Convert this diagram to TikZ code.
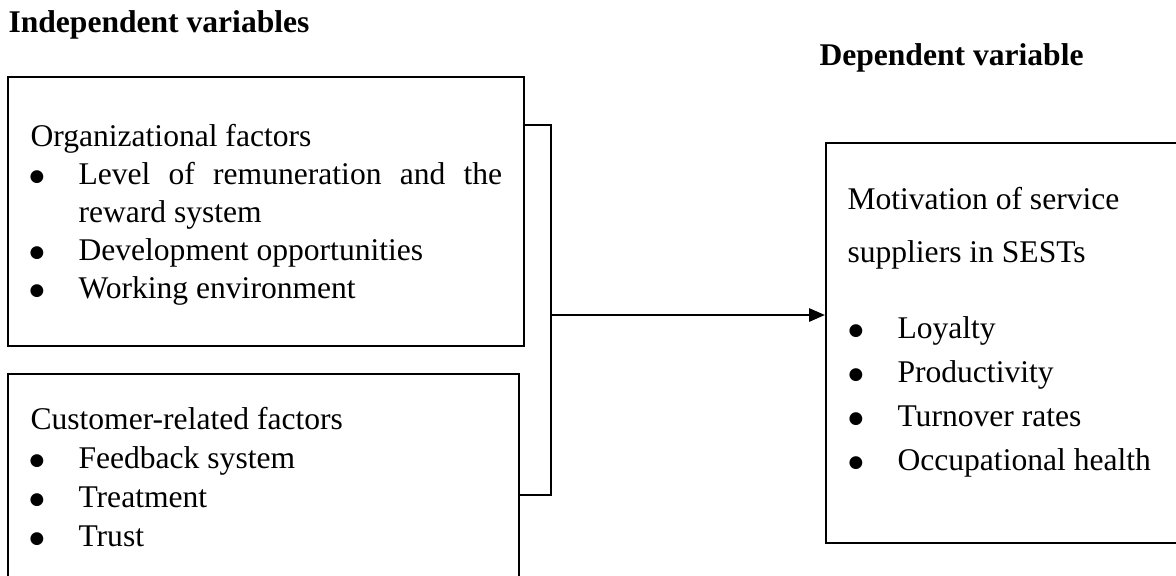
\documentclass[tikz,border=0pt]{standalone}
\usepackage{fontspec}
\setmainfont{Liberation Serif}
\newfontfamily\dotfont{DejaVu Sans}
\usetikzlibrary{arrows.meta,fit}
\tikzset{
  box/.style={draw, line width=0.8pt, inner sep=0pt},
  txt/.style={anchor=base west, inner sep=0pt, font=\fontsize{12}{14}\selectfont},
  head/.style={txt, font=\fontsize{12}{14}\selectfont\bfseries},
  link/.style={line width=0.8pt},
}
\newcommand{\bul}{\llap{\raisebox{1.1pt}{\dotfont\fontsize{6.4}{7}\selectfont ●}\hspace{13pt}}}

\begin{document}
\begin{tikzpicture}[x=0.38pt, y=-0.38pt]
            \useasboundingbox (0,0) rectangle (1176,575);
            \clip (0,0) rectangle (1176,575);

            % headings
            \node[head] (indep) at (8,32) {Independent variables};
            \node[head] (dep) at (819,65) {Dependent variable};

            % boxes
            \node[box, fit={(8,77) (524,346)}] (org) {};
            \node[box, fit={(8,374) (519,600)}] (cust) {};
            \node[box, fit={(826,143) (1200,543)}] (motiv) {};

            % organizational factors
            \node[txt] (o0) at (30,146) {Organizational factors};
            \node[txt] (o1) at (78,184) {\bul\makebox[161pt][s]{Level of remuneration and the}};
            \node[txt] (o2) at (78,222) {reward system};
            \node[txt] (o3) at (78,260) {\bul Development opportunities};
            \node[txt] (o4) at (78,298) {\bul Working environment};

            % customer-related factors
            \node[txt] (c0) at (30,429) {Customer-related factors};
            \node[txt] (c1) at (78,468) {\bul Feedback system};
            \node[txt] (c2) at (78,507) {\bul Treatment};
            \node[txt] (c3) at (78,546) {\bul Trust};

            % motivation
            \node[txt] (m0) at (847,209) {Motivation of service};
            \node[txt] (m1) at (847,262) {suppliers in SESTs};
            \node[txt] (m2) at (897,338) {\bul Loyalty};
            \node[txt] (m3) at (897,382) {\bul Productivity};
            \node[txt] (m4) at (897,426) {\bul Turnover rates};
            \node[txt] (m5) at (897,470) {\bul Occupational health};

            % bracket and arrow
            \coordinate (jtop) at (551,125);
            \coordinate (jbot) at (551,495);
            \coordinate (jmid) at (551,315);
            \draw[link] (org.east |- jtop) -- (jtop) -- (jbot) -- (cust.east |- jbot);
            \draw[link,-{Triangle[length=6pt,width=5pt]}] (jmid) -- (motiv.west |- jmid);
\end{tikzpicture}
\end{document}
